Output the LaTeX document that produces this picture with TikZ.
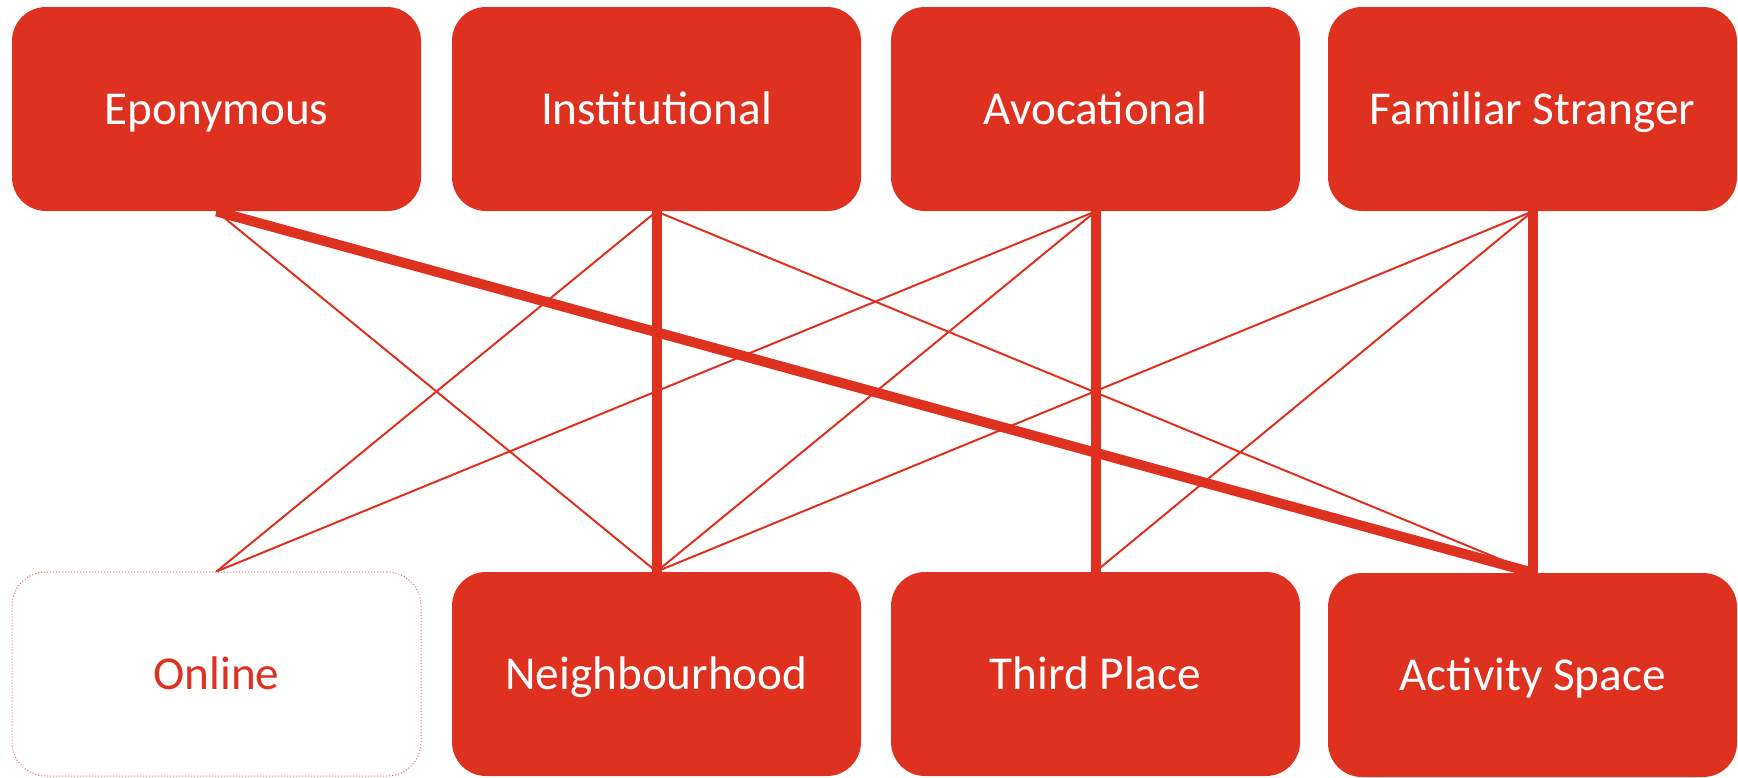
\documentclass[tikz,border=0pt]{standalone}
\usepackage{fontspec}
\setmainfont{Carlito}
\definecolor{boxred}{RGB}{222,49,31}
\begin{document}
\begin{tikzpicture}[x=0.5pt,y=-0.5pt,
  cat/.style={rectangle, rounded corners=17pt, fill=boxred, text=white,
    minimum width=204.5pt, minimum height=102pt, inner sep=0pt,
    text height=15.2pt, text depth=0pt,
    font=\fontsize{23.6}{28}\selectfont},
  ghost/.style={cat, fill=white, text=boxred, draw=boxred!70, densely dotted, line width=0.5pt},
  thin/.style={draw=boxred, line width=1pt},
  heavy/.style={draw=boxred, line width=5pt}]
\useasboundingbox (0,0) rectangle (1738,777);
\node[cat] (epo) at (216.5,109) {Eponymous};
\node[cat] (ins) at (656.5,109) {Institutional};
\node[cat] (avo) at (1095.5,109) {Avocational};
\node[cat] (fam) at (1532.5,109) {Familiar Stranger};
\node[ghost] (onl) at (216.5,674) {Online};
\node[cat] (nei) at (656.5,674) {Neighbourhood};
\node[cat] (thi) at (1095.5,674) {Third Place};
\node[cat] (act) at (1532.5,675) {Activity Space};
\draw[thin] (epo.south) -- (nei.north);
\draw[thin] (ins.south) -- (onl.north);
\draw[thin] (ins.south) -- (act.north);
\draw[thin] (avo.south) -- (onl.north);
\draw[thin] (avo.south) -- (nei.north);
\draw[thin] (fam.south) -- (nei.north);
\draw[thin] (fam.south) -- (thi.north);
\draw[heavy] (epo.south) -- (act.north);
\draw[heavy] (ins.south) -- (nei.north);
\draw[heavy] (avo.south) -- (thi.north);
\draw[heavy] (fam.south) -- (act.north);
\end{tikzpicture}
\end{document}
